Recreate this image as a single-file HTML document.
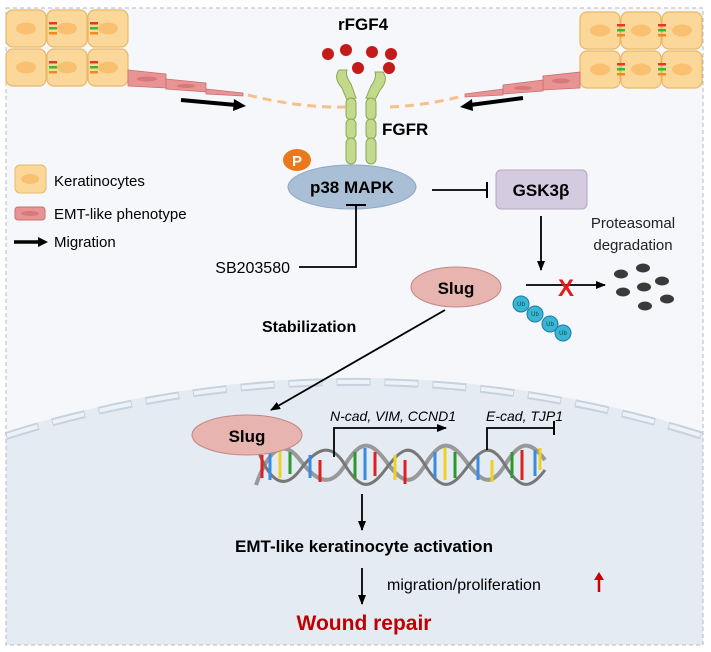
<!DOCTYPE html>
<html><head><meta charset="utf-8"><style>
html,body{margin:0;padding:0;background:#fff;width:711px;height:652px;overflow:hidden}
svg{display:block;position:absolute;left:0;top:0}
text{font-family:"Liberation Sans",sans-serif}
</style></head><body>
<svg width="711" height="652" viewBox="0 0 711 652" xmlns="http://www.w3.org/2000/svg">
<defs>
<marker id="ah" markerWidth="10" markerHeight="10" refX="9" refY="5" orient="auto" markerUnits="userSpaceOnUse"><path d="M0,1 L10,5 L0,9 Z" fill="#000"/></marker>
<g id="cell"><rect x="0" y="0" width="40" height="37" rx="7" fill="#fbd89a" stroke="#e8b86a" stroke-width="1.2"/><ellipse cx="20" cy="18.5" rx="10" ry="6" fill="#f8c070"/></g>
<g id="junc"><rect x="-4" y="12" width="8" height="2.5" fill="#e03a2a"/><rect x="-4" y="17" width="8" height="2.5" fill="#3cb832"/><rect x="-4" y="22" width="8" height="2.5" fill="#f08a20"/></g>
</defs>
<rect x="0" y="0" width="711" height="652" fill="#fff"/>
<rect x="6" y="8" width="697" height="637" fill="#f5f7fa"/>
<path d="M6,432 A1150,1150 0 0 1 703,432 L703,645 L6,645 Z" fill="#e4ebf3"/>
<path d="M6,436 A1150,1150 0 0 1 703,436" fill="none" stroke="#c6d3df" stroke-width="8" stroke-dasharray="34,14"/>
<path d="M6,436 A1150,1150 0 0 1 703,436" fill="none" stroke="#eef2f7" stroke-width="4" stroke-dasharray="32,16" stroke-dashoffset="-1"/>
<rect x="6" y="8" width="697" height="637" fill="none" stroke="#b8b8b8" stroke-dasharray="4,3" stroke-width="1"/>

<g transform="translate(6,10)"><use href="#cell"/><use href="#cell" x="41"/><use href="#cell" x="82"/>
<use href="#cell" y="39"/><use href="#cell" x="41" y="39"/><use href="#cell" x="82" y="39"/>
<use href="#junc" x="47" y="0"/><use href="#junc" x="88"/><use href="#junc" x="47" y="39"/><use href="#junc" x="88" y="39"/></g>
<g fill="#e89494" stroke="#c87070" stroke-width="0.8">
<path d="M128,70 L166,74 L166,88 L128,86 Z"/><ellipse cx="147" cy="79" rx="10" ry="2.5" fill="#d87878" stroke="none"/>
<path d="M166,79 L206,83 L206,92 L166,89 Z"/><ellipse cx="186" cy="86" rx="9" ry="2" fill="#d87878" stroke="none"/>
<path d="M206,89 L243,93 L243,96 L206,94 Z"/></g>
<g transform="translate(580,12)"><use href="#cell"/><use href="#cell" x="41"/><use href="#cell" x="82"/>
<use href="#cell" y="39"/><use href="#cell" x="41" y="39"/><use href="#cell" x="82" y="39"/>
<use href="#junc" x="41" y="0"/><use href="#junc" x="82"/><use href="#junc" x="41" y="39"/><use href="#junc" x="82" y="39"/></g>
<g fill="#e89494" stroke="#c87070" stroke-width="0.8">
<path d="M580,72 L543,76 L543,90 L580,88 Z"/><ellipse cx="561" cy="81" rx="9" ry="2.5" fill="#d87878" stroke="none"/>
<path d="M543,80 L503,85 L503,94 L543,91 Z"/><ellipse cx="523" cy="88" rx="9" ry="2" fill="#d87878" stroke="none"/>
<path d="M503,89 L465,94 L465,97 L503,95 Z"/></g>
<path d="M248,95 Q300,108 345,107 M390,107 Q430,105 462,96" fill="none" stroke="#f7c08a" stroke-width="3" stroke-dasharray="9,6"/>
<line x1="181" y1="100" x2="236" y2="105" stroke="#000" stroke-width="4"/><path d="M234,99 L246,106 L233,111 Z" fill="#000"/>
<line x1="523" y1="98" x2="470" y2="105" stroke="#000" stroke-width="4"/><path d="M472,99 L460,107 L473,111 Z" fill="#000"/>

<g fill="#c3d98c" stroke="#8aa858" stroke-width="1">
<path d="M339,70 Q333,78 342,88 L347,100 L356,98 L351,84 Q345,76 347,70 Z"/>
<path d="M383,72 Q389,80 380,90 L375,100 L366,98 L371,86 Q377,78 375,72 Z"/>
<rect x="346" y="98" width="10" height="22" rx="5"/><rect x="366" y="98" width="10" height="22" rx="5"/>
<rect x="346" y="119" width="10" height="20" rx="5"/><rect x="366" y="119" width="10" height="20" rx="5"/>
<rect x="346" y="138" width="10" height="26" rx="5"/><rect x="366" y="138" width="10" height="26" rx="5"/>
</g>
<g fill="#c41a1a">
<circle cx="328" cy="54" r="6"/><circle cx="346" cy="50" r="6"/><circle cx="358" cy="68" r="6"/><circle cx="372" cy="52" r="6"/><circle cx="389" cy="68" r="6"/><circle cx="391" cy="54" r="6"/></g>
<text x="363" y="30" font-size="17" font-weight="bold" text-anchor="middle">rFGF4</text>
<text x="382" y="135" font-size="17" font-weight="bold">FGFR</text>

<ellipse cx="352" cy="187" rx="64" ry="22" fill="#a9bfd6" stroke="#8ea8c2"/>
<text x="352" y="193" font-size="17" font-weight="bold" text-anchor="middle">p38 MAPK</text>
<ellipse cx="297" cy="160" rx="14" ry="11" fill="#e9791c"/>
<text x="297" y="166" font-size="15" font-weight="bold" fill="#fff" text-anchor="middle">P</text>

<line x1="432" y1="190" x2="486" y2="190" stroke="#000" stroke-width="1.8"/><line x1="487" y1="182" x2="487" y2="198" stroke="#000" stroke-width="2"/>
<rect x="496" y="170" width="91" height="39" rx="5" fill="#d5cbe0" stroke="#b3a6c4"/>
<text x="541" y="196" font-size="17" font-weight="bold" text-anchor="middle">GSK3β</text>
<line x1="541" y1="216" x2="541" y2="270" stroke="#000" stroke-width="1.8" marker-end="url(#ah)"/>
<text x="633" y="228" font-size="15" fill="#222" text-anchor="middle">Proteasomal</text>
<text x="633" y="250" font-size="15" fill="#222" text-anchor="middle">degradation</text>
<g fill="#3a3a3a"><ellipse cx="621" cy="274" rx="7" ry="4.5"/><ellipse cx="643" cy="268" rx="7" ry="4.5"/><ellipse cx="662" cy="281" rx="7" ry="4.5"/><ellipse cx="623" cy="292" rx="7" ry="4.5"/><ellipse cx="644" cy="287" rx="7" ry="4.5"/><ellipse cx="667" cy="299" rx="7" ry="4.5"/><ellipse cx="645" cy="306" rx="7" ry="4.5"/></g>

<text x="290" y="273" font-size="16" text-anchor="end">SB203580</text>
<polyline points="299,267 356,267 356,206" fill="none" stroke="#000" stroke-width="1.8"/><line x1="346" y1="205" x2="366" y2="205" stroke="#000" stroke-width="2"/>

<ellipse cx="456" cy="287" rx="45" ry="20" fill="#e8b4b0" stroke="#c48884"/>
<text x="456" y="294" font-size="17" font-weight="bold" text-anchor="middle">Slug</text>
<line x1="526" y1="285" x2="605" y2="285" stroke="#000" stroke-width="1.8" marker-end="url(#ah)"/>
<text x="566" y="296" font-size="24" font-weight="bold" fill="#e21a1a" text-anchor="middle">X</text>
<g fill="#3ab5d8" stroke="#1a7ea0" stroke-width="1">
<circle cx="521" cy="304" r="8"/><circle cx="535" cy="314" r="8"/><circle cx="550" cy="324" r="8"/><circle cx="563" cy="333" r="8"/></g>
<g font-size="6" fill="#053" text-anchor="middle"><text x="521" y="306">Ub</text><text x="535" y="316">Ub</text><text x="550" y="326">Ub</text><text x="563" y="335">Ub</text></g>

<text x="262" y="332" font-size="16" font-weight="bold">Stabilization</text>
<line x1="445" y1="310" x2="271" y2="410" stroke="#000" stroke-width="1.8" marker-end="url(#ah)"/>

<g>
<path d="M256,485 C270,445 285,440 300,460 S330,490 345,465 S370,440 385,460 S410,490 425,465 S450,440 465,460 S490,490 505,465 S530,440 545,460" fill="none" stroke="#999" stroke-width="4"/>
<path d="M256,445 C270,485 285,490 300,470 S330,440 345,465 S370,490 385,470 S410,440 425,465 S450,490 465,470 S490,440 505,465 S530,490 545,470" fill="none" stroke="#777" stroke-width="3"/>
<g stroke-width="3">
<line x1="262" y1="455" x2="262" y2="478" stroke="#e02020"/><line x1="270" y1="450" x2="270" y2="480" stroke="#3a8ae0"/><line x1="280" y1="448" x2="280" y2="478" stroke="#f0d020"/><line x1="290" y1="452" x2="290" y2="474" stroke="#2a9a2a"/>
<line x1="310" y1="455" x2="310" y2="478" stroke="#3a8ae0"/><line x1="320" y1="460" x2="320" y2="482" stroke="#e02020"/><line x1="355" y1="452" x2="355" y2="478" stroke="#2a9a2a"/><line x1="365" y1="448" x2="365" y2="480" stroke="#3a8ae0"/>
<line x1="375" y1="452" x2="375" y2="476" stroke="#e02020"/><line x1="395" y1="455" x2="395" y2="480" stroke="#f0d020"/><line x1="405" y1="460" x2="405" y2="484" stroke="#e02020"/><line x1="435" y1="452" x2="435" y2="478" stroke="#3a8ae0"/>
<line x1="445" y1="448" x2="445" y2="480" stroke="#f0d020"/><line x1="455" y1="452" x2="455" y2="478" stroke="#2a9a2a"/><line x1="478" y1="456" x2="478" y2="480" stroke="#3a8ae0"/><line x1="492" y1="460" x2="492" y2="482" stroke="#f0d020"/>
<line x1="512" y1="452" x2="512" y2="478" stroke="#2a9a2a"/><line x1="522" y1="450" x2="522" y2="480" stroke="#e02020"/><line x1="535" y1="450" x2="535" y2="476" stroke="#3a8ae0"/><line x1="540" y1="448" x2="540" y2="470" stroke="#f0d020"/>
</g></g>
<ellipse cx="247" cy="435" rx="55" ry="20" fill="#e8b4b0" stroke="#c48884"/>
<text x="247" y="442" font-size="17" font-weight="bold" text-anchor="middle">Slug</text>

<text x="330" y="421" font-size="14" font-style="italic">N-cad, VIM, CCND1</text>
<polyline points="334,457 334,428 446,428" fill="none" stroke="#000" stroke-width="1.8" marker-end="url(#ah)"/>
<text x="486" y="421" font-size="14" font-style="italic">E-cad, TJP1</text>
<polyline points="487,450 487,428 553,428" fill="none" stroke="#000" stroke-width="1.8"/><line x1="554" y1="421" x2="554" y2="435" stroke="#000" stroke-width="2"/>

<line x1="362" y1="494" x2="362" y2="530" stroke="#000" stroke-width="1.8" marker-end="url(#ah)"/>
<text x="364" y="552" font-size="17" font-weight="bold" text-anchor="middle">EMT-like keratinocyte activation</text>
<line x1="362" y1="568" x2="362" y2="604" stroke="#000" stroke-width="1.8" marker-end="url(#ah)"/>
<text x="387" y="590" font-size="16">migration/proliferation</text>
<line x1="599" y1="592" x2="599" y2="578" stroke="#c00" stroke-width="2.5"/><path d="M594,580 L599,572 L604,580 Z" fill="#c00"/>
<text x="364" y="630" font-size="21" font-weight="bold" fill="#c00000" text-anchor="middle">Wound repair</text>

<rect x="15" y="165" width="31" height="28" rx="5" fill="#fbd89a" stroke="#e8b86a"/><ellipse cx="30" cy="179" rx="9" ry="5" fill="#f8c070"/>
<text x="54" y="186" font-size="15">Keratinocytes</text>
<rect x="15" y="207" width="30" height="13" rx="3" fill="#e89494" stroke="#c87070"/><ellipse cx="30" cy="213.5" rx="9" ry="2.5" fill="#d87878"/>
<text x="54" y="219" font-size="15">EMT-like phenotype</text>
<line x1="14" y1="242" x2="40" y2="242" stroke="#000" stroke-width="3.5"/><path d="M38,237 L48,242 L38,247 Z" fill="#000"/>
<text x="54" y="247" font-size="15">Migration</text>
</svg>
</body></html>
